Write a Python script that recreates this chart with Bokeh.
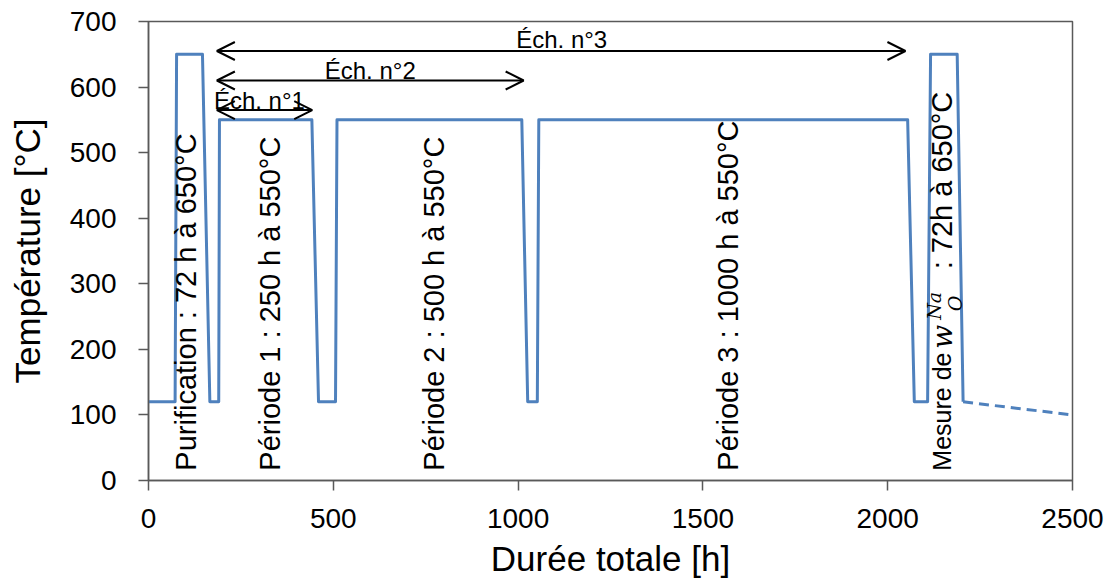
import math
from bokeh.plotting import figure
from bokeh.models import Arrow, OpenHead, ColumnDataSource, FixedTicker, Range1d
from bokeh.embed import file_html
from bokeh.resources import INLINE
from bokeh.core.properties import value

# ---- data ----
time_h = [0, 72, 76, 146, 166, 190, 192, 442, 460, 506, 510, 1010, 1026, 1052, 1056,
          2054, 2072, 2108, 2116, 2188, 2204]
temp_c = [120, 120, 650, 650, 120, 120, 550, 550, 120, 120, 550, 550, 120, 120, 550,
          550, 120, 120, 650, 650, 120]
tail_time = [2204, 2500]
tail_temp = [120, 100]

ech_labels = ["Éch. n°1", "Éch. n°2", "Éch. n°3"]
ech_start = [185, 185, 185]
ech_end = [443, 1015, 2048]
ech_level = [565, 610, 655]
ech_label_x = [300, 600, 1118]
ech_label_y = [580, 626, 672]

period_labels = ["Purification : 72 h à 650°C", "Période 1 : 250 h à 550°C",
                 "Période 2 : 500 h à 550°C", "Période 3 : 1000 h à 550°C"]
period_x = [102, 330, 772, 1569]
period_y = [15, 15, 15, 15]

mesure_x = 2147
x_ticks = [0, 500, 1000, 1500, 2000, 2500]
y_ticks = [0, 100, 200, 300, 400, 500, 600, 700]

FONT = "Liberation Sans"
BLUE = "#4F81BD"
GRAY = "#595959"

p = figure(frame_width=924, frame_height=459, output_backend="svg", toolbar_location=None,
           x_range=Range1d(0, 2500), y_range=Range1d(0, 700),
           min_border_left=148, min_border_top=21, min_border_right=34, min_border_bottom=80)
p.background_fill_color = "white"
p.border_fill_color = "white"
p.outline_line_color = GRAY
p.outline_line_width = 1.5
p.xgrid.visible = False
p.ygrid.visible = False

for ax in (p.xaxis[0], p.yaxis[0]):
    ax.axis_line_color = GRAY
    ax.axis_line_width = 1.5
    ax.major_tick_line_color = GRAY
    ax.major_tick_line_width = 1.5
    ax.major_tick_in = 0
    ax.major_tick_out = 10
    ax.minor_tick_line_color = None
    ax.major_label_text_font = FONT
    ax.major_label_text_font_size = "28px"
    ax.major_label_text_color = "black"
    ax.axis_label_text_font = FONT
    ax.axis_label_text_font_style = "normal"
    ax.axis_label_text_color = "black"
    ax.axis_label_text_font_size = "35px"

p.xaxis.ticker = FixedTicker(ticks=x_ticks)
p.yaxis.ticker = FixedTicker(ticks=y_ticks)
p.xaxis.axis_label = "Durée totale [h]"
p.yaxis.axis_label = "Température [°C]"
p.xaxis.major_label_standoff = 18
p.yaxis.major_label_standoff = 22
p.xaxis.axis_label_standoff = 8
p.yaxis.axis_label_standoff = 20

# temperature profile
p.line(time_h, temp_c, line_color=BLUE, line_width=3, line_join="round")
p.line(tail_time, tail_temp, line_color=BLUE, line_width=3, line_dash="10 6")

# arrows
asrc = ColumnDataSource(dict(x0=ech_start, x1=ech_end, y=ech_level))
p.add_layout(Arrow(start=OpenHead(size=18, line_width=2, line_color="black"),
                   end=OpenHead(size=18, line_width=2, line_color="black"),
                   x_start="x0", y_start="y", x_end="x1", y_end="y",
                   line_width=2, line_color="black", source=asrc))
p.text(x=ech_label_x, y=ech_label_y, text=ech_labels, text_font=value(FONT),
       text_font_size="24px", text_align="center", text_baseline="alphabetic",
       text_color="black")

# vertical period labels
p.text(x=period_x, y=period_y, text=period_labels, angle=math.pi / 2,
       text_font=value(FONT), text_font_size="29px", text_align="left",
       text_baseline="middle", text_color="black")

# Mesure de w_O^Na : 72h à 650°C  (pieces)
p.text(x=[mesure_x], y=[15], text=["Mesure de"], angle=math.pi / 2,
       text_font=value(FONT), text_font_size="25px", text_align="left",
       text_baseline="middle", text_color="black")
p.text(x=[mesure_x], y=[201], text=["w"], angle=math.pi / 2,
       text_font=value("DejaVu Serif"), text_font_style="italic", text_font_size="28px",
       text_align="left", text_baseline="middle", text_color="black")
p.text(x=[2183], y=[258], text=["O"], angle=math.pi / 2,
       text_font=value("DejaVu Serif"), text_font_style="italic", text_font_size="19px",
       text_align="left", text_baseline="middle", text_color="black")
p.text(x=[2125], y=[245], text=["Na"], angle=math.pi / 2,
       text_font=value("DejaVu Serif"), text_font_style="italic", text_font_size="19px",
       text_align="left", text_baseline="middle", text_color="black")
p.text(x=[mesure_x], y=[322], text=[": 72h à 650°C"], angle=math.pi / 2,
       text_font=value(FONT), text_font_size="29px", text_align="left",
       text_baseline="middle", text_color="black")

open("out.html", "w").write(file_html(p, INLINE))
